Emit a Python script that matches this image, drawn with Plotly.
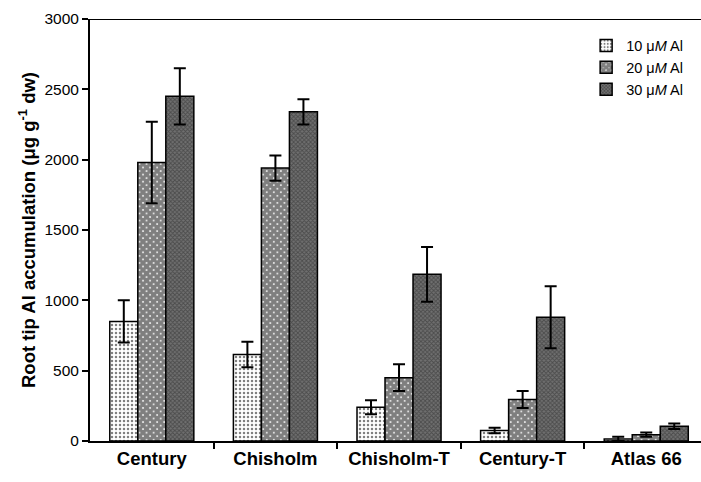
import plotly.graph_objects as go

cultivars = ["Century", "Chisholm", "Chisholm-T", "Century-T", "Atlas 66"]

al10 = [850, 615, 240, 75, 15]
al10_err = [150, 90, 50, 20, 15]
al20 = [1980, 1940, 450, 295, 45]
al20_err = [290, 90, 95, 60, 15]
al30 = [2450, 2340, 1185, 880, 105]
al30_err = [200, 90, 195, 220, 20]

series = [
    ("10 μ<i>M</i> Al", al10, al10_err,
     dict(shape=".", fgcolor="black", bgcolor="white", size=4, solidity=0.3)),
    ("20 μ<i>M</i> Al", al20, al20_err,
     dict(shape="x", fgcolor="black", bgcolor="white", size=5, solidity=0.9)),
    ("30 μ<i>M</i> Al", al30, al30_err,
     dict(shape="x", fgcolor="#262626", bgcolor="#707070", size=3, solidity=0.5)),
]

fig = go.Figure()
for name, vals, errs, pat in series:
    fig.add_trace(go.Bar(
        x=cultivars, y=vals, name=name,
        marker=dict(color=pat["bgcolor"], pattern=pat,
                    line=dict(color="black", width=1.5)),
        error_y=dict(type="data", array=errs, visible=True,
                     color="black", thickness=2, width=6),
    ))

fig.update_layout(
    width=701, height=482,
    margin=dict(l=90, r=0, t=19, b=41),
    paper_bgcolor="white", plot_bgcolor="white",
    barmode="group", bargap=0.32, bargroupgap=0,
    font=dict(family="Liberation Sans, Arial, sans-serif", color="black"),
    legend=dict(x=0.812, y=0.975, xanchor="left", yanchor="top",
                font=dict(size=14.5), bgcolor="rgba(0,0,0,0)",
                itemwidth=30, tracegroupgap=0),
    shapes=[dict(type="line", xref="paper", yref="y", x0=0, x1=1,
                 y0=3000, y1=3000, line=dict(color="black", width=2))],
)

fig.update_xaxes(
    range=[-0.5, 4.443],
    showline=True, linecolor="black", linewidth=2,
    tickmode="array", tickvals=[0, 1, 2, 3, 4],
    ticktext=[f"<b>{c}</b>" for c in cultivars],
    ticks="", tickfont=dict(size=18.5),
    showgrid=False,
    # group dividers between categories
    minor=dict(tickmode="array", tickvals=[0.5, 1.5, 2.5, 3.5],
               ticks="outside", ticklen=6, tickwidth=2, tickcolor="black"),
)

fig.update_yaxes(
    range=[0, 3000], dtick=500,
    showline=True, linecolor="black", linewidth=2,
    ticks="outside", ticklen=6, tickwidth=2, tickcolor="black",
    tickfont=dict(size=15.5), showgrid=False, zeroline=False,
    title=dict(text="<b>Root tip Al accumulation (μg g<sup>-1</sup> dw)</b>",
               font=dict(size=18.5), standoff=4),
)

fig.write_html("out.html")
